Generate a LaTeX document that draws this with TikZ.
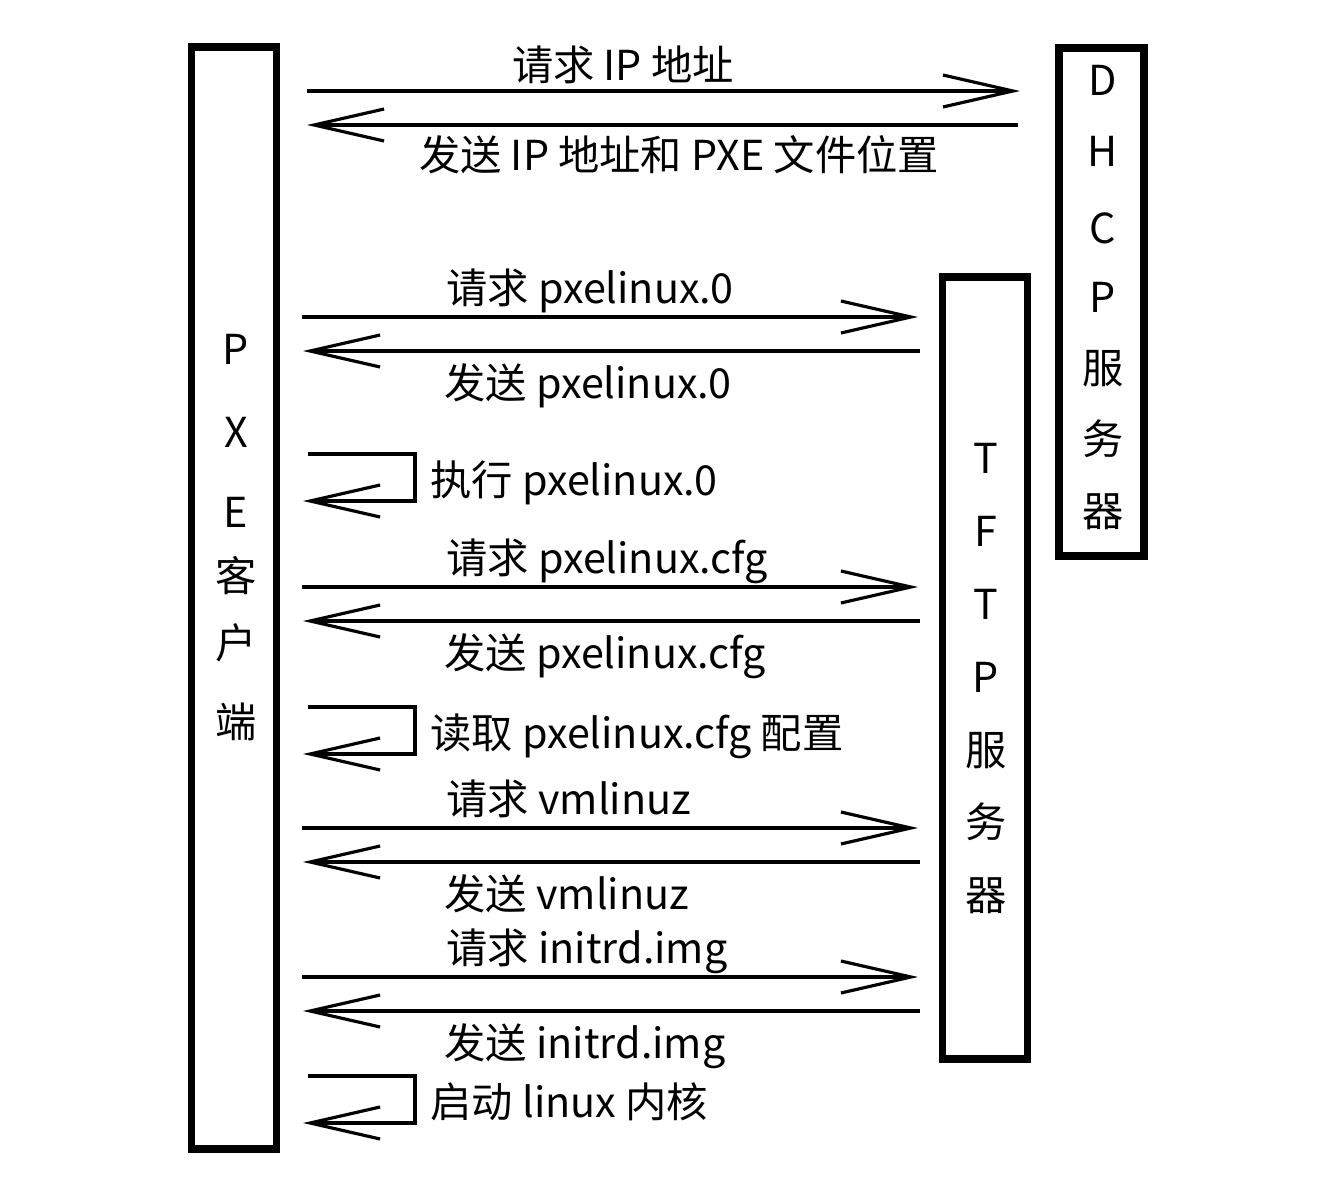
\documentclass[tikz,border=0pt]{standalone}
\usepackage{fontspec}
\setmainfont{Noto Sans CJK SC}
\usetikzlibrary{arrows.meta}

\begin{document}
\begin{tikzpicture}[x=0.02cm, y=-0.02cm, line width=1.8pt,
		font=\fontsize{23.5}{28}\selectfont,
		server/.style={draw, line width=4.4pt, minimum width=1.7cm, inner sep=0pt},
		letter/.style={inner sep=0pt, text height=20.7pt, text depth=2.8pt},
		msg/.style={-{Straight Barb[length=1.4cm, width=0.64cm]}},
		lbl/.style={letter, anchor=west}]
	\useasboundingbox(0, 0)rectangle(1323, 1193);
	% three boxes
	\node[server, minimum height=22.04cm](pxe)at(234, 598){};
	\node[server, minimum height=10.16cm](dhcp)at(1101.5, 302){};
	\node[server, minimum height=15.64cm](tftp)at(985, 668){};
	\foreach \c/\y in {P/349, X/432, E/512, 客/576, 户/643, 端/722}
		\node[letter](pxe-\y)at(236, \y){\c};
	\foreach \c/\y in {D/80, H/151, C/228, P/297, 服/368, 务/439, 器/511}
		\node[letter](dhcp-\y)at(1103, \y){\c};
	\foreach \c/\y in {T/458, F/531, T/604, P/677, 服/750, 务/822, 器/895}
		\node[letter](tftp-\y)at(986, \y){\c};
	% DHCP
	\coordinate(c-91)at(307, 91);
	\coordinate(d-91)at(1020, 91);
	\coordinate(d-125)at(1018, 125);
	\coordinate(c-125)at(307, 125);
	\draw[msg](c-91)--(d-91);
	\draw[msg](d-125)--(c-125);
	\node[letter](ask-ip)at(623, 65){请求 IP 地址};
	\node[letter](get-ip)at(679, 155){发送 IP 地址和 PXE 文件位置};
	% TFTP
	\foreach \y/\f in {317/pxelinux.0, 587/pxelinux.cfg, 828/vmlinuz, 977/initrd.img}{
		\coordinate(c-\y)at(302, \y);
		\coordinate(t-\y)at(918, \y);
		\coordinate(tb-\y)at(920, \y+34);
		\coordinate(cb-\y)at(303, \y+34);
		\draw[msg](c-\y)--(t-\y);
		\draw[msg](tb-\y)--(cb-\y);
		\node[lbl](ask-\y)at(445, \y-29){请求 \f};
		\node[lbl](get-\y)at(443, \y+66){发送 \f};
	}
	% client only
	\foreach \y/\t in {454/执行 pxelinux.0, 707/读取 pxelinux.cfg 配置, 1076/启动 linux 内核}{
		\coordinate(s-\y)at(308, \y);
		\coordinate(e-\y)at(303, \y+47);
		\draw[msg](s-\y)-|(415, \y+47)--(e-\y);
		\node[lbl](run-\y)at(429, \y+26){\t};
	}
\end{tikzpicture}
\end{document}
